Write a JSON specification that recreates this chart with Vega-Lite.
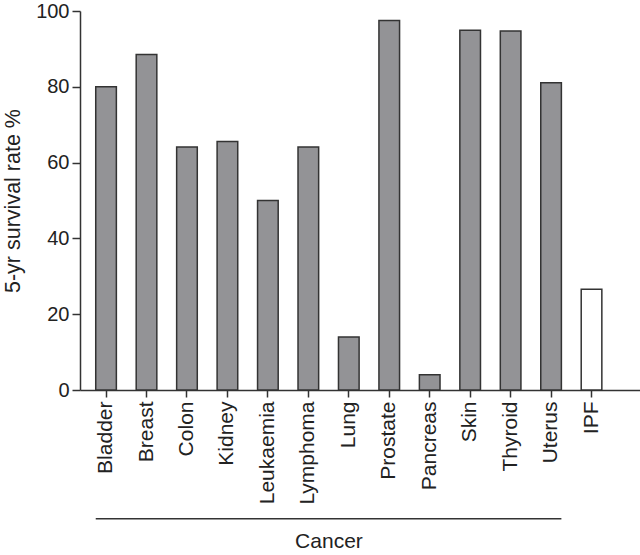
{
  "$schema": "https://vega.github.io/schema/vega-lite/v6.json",
  "autosize": "none",
  "padding": {"left": 80, "top": 11, "right": 0, "bottom": 165},
  "width": 560,
  "height": 379,
  "background": "white",
  "config": {
    "view": {"stroke": null},
    "font": "Liberation Sans",
    "axis": {
      "domainColor": "#333333",
      "tickColor": "#333333",
      "domainWidth": 1.5,
      "tickWidth": 1.5,
      "labelColor": "#222222",
      "titleColor": "#222222",
      "labelFont": "Liberation Sans",
      "titleFont": "Liberation Sans",
      "titleFontWeight": "normal",
      "grid": false
    }
  },
  "datasets": {
    "rates": [
      {"site": "Bladder", "rate": 80.0, "group": "Cancer"},
      {"site": "Breast", "rate": 88.5, "group": "Cancer"},
      {"site": "Colon", "rate": 64.1, "group": "Cancer"},
      {"site": "Kidney", "rate": 65.6, "group": "Cancer"},
      {"site": "Leukaemia", "rate": 50.0, "group": "Cancer"},
      {"site": "Lymphoma", "rate": 64.1, "group": "Cancer"},
      {"site": "Lung", "rate": 14.0, "group": "Cancer"},
      {"site": "Prostate", "rate": 97.5, "group": "Cancer"},
      {"site": "Pancreas", "rate": 4.0, "group": "Cancer"},
      {"site": "Skin", "rate": 94.9, "group": "Cancer"},
      {"site": "Thyroid", "rate": 94.7, "group": "Cancer"},
      {"site": "Uterus", "rate": 81.1, "group": "Cancer"},
      {"site": "IPF", "rate": 26.6, "group": "IPF"}
    ],
    "bracket": [
      {"start": "Bladder", "end": "Uterus", "mid": "Lymphoma", "label": "Cancer", "ruleY": -34, "textY": -41.6}
    ]
  },
  "layer": [
    {
      "data": {"name": "rates"},
      "mark": {"type": "bar", "stroke": "#333333", "strokeWidth": 1.5},
      "encoding": {
        "x": {
          "field": "site",
          "type": "nominal",
          "scale": {
            "domain": ["Bladder", "Breast", "Colon", "Kidney", "Leukaemia", "Lymphoma", "Lung", "Prostate", "Pancreas", "Skin", "Thyroid", "Uterus", "IPF"],
            "paddingInner": 0.49,
            "paddingOuter": 0.666,
            "align": 0.292
          },
          "axis": {
            "title": null,
            "labelAngle": -90,
            "labelFontSize": 21,
            "tickSize": 7,
            "labelPadding": 4
          }
        },
        "y": {
          "field": "rate",
          "type": "quantitative",
          "scale": {"domain": [0, 100], "nice": false},
          "axis": {
            "title": "5-yr survival rate %",
            "values": [0, 20, 40, 60, 80, 100],
            "labelFontSize": 20,
            "titleFontSize": 21.5,
            "tickSize": 8,
            "labelPadding": 3,
            "titlePadding": 11
          }
        },
        "color": {
          "field": "group",
          "type": "nominal",
          "scale": {"domain": ["Cancer", "IPF"], "range": ["#939396", "#ffffff"]},
          "legend": null
        }
      }
    },
    {
      "data": {"name": "bracket"},
      "mark": {"type": "rule", "color": "#333333", "strokeWidth": 1.5},
      "encoding": {
        "x": {"field": "start", "type": "nominal", "bandPosition": 0},
        "x2": {"field": "end", "bandPosition": 1},
        "y": {"field": "ruleY", "type": "quantitative"}
      }
    },
    {
      "data": {"name": "bracket"},
      "mark": {"type": "text", "fontSize": 21, "color": "#222222", "baseline": "alphabetic", "align": "center"},
      "encoding": {
        "x": {"field": "mid", "type": "nominal", "bandPosition": 1.5},
        "y": {"field": "textY", "type": "quantitative"},
        "text": {"field": "label"}
      }
    }
  ]
}
